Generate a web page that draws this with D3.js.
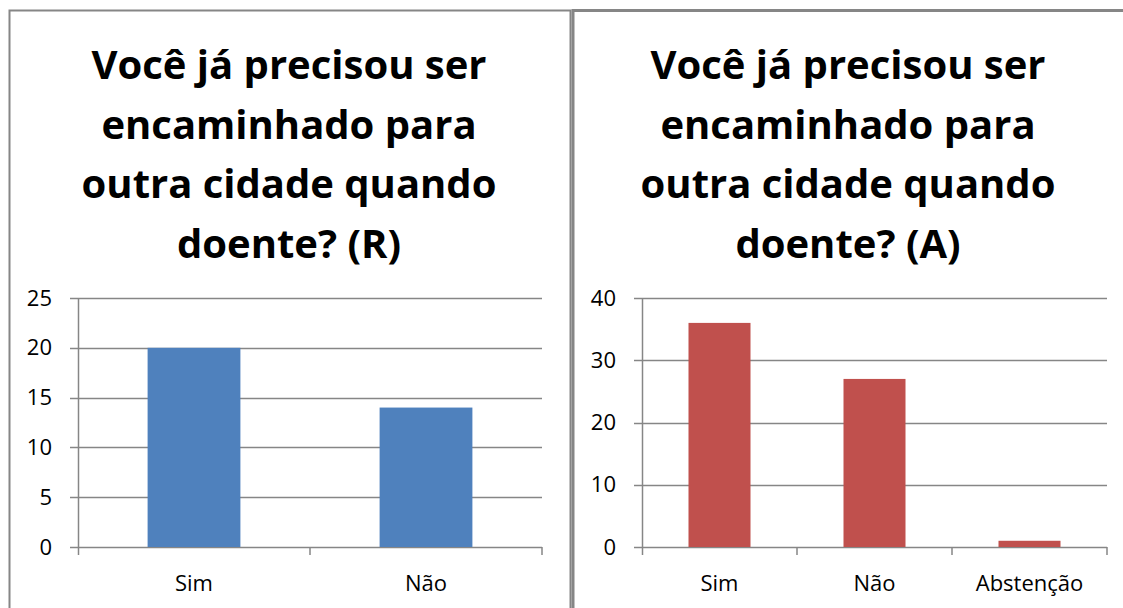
<!DOCTYPE html>
<html><head><meta charset="utf-8">
<script src="https://cdn.jsdelivr.net/npm/d3@7"></script>
<style>body{margin:0;background:#fff}svg{display:block}</style>
</head><body>
<script>
const titleLeft = ["Você já precisou ser", "encaminhado para", "outra cidade quando", "doente? (R)"];
const titleRight = ["Você já precisou ser", "encaminhado para", "outra cidade quando", "doente? (A)"];
const catsLeft = ["Sim", "Não"];
const valsLeft = [20, 14];
const ticksLeft = [0, 5, 10, 15, 20, 25];
const catsRight = ["Sim", "Não", "Abstenção"];
const valsRight = [36, 27, 1];
const ticksRight = [0, 10, 20, 30, 40];

const W = 1123, H = 608;
const svg = d3.select("body").append("svg").attr("width", W).attr("height", H);
const FONT = "'Open Sans', sans-serif";
const GRID = "#868686";

// panel borders
svg.append("rect").attr("x", 9.5).attr("y", 10.5).attr("width", 561).attr("height", 620)
  .attr("fill", "none").attr("stroke", GRID).attr("stroke-width", 2);
svg.append("rect").attr("x", 573).attr("y", 10.5).attr("width", 560).attr("height", 620)
  .attr("fill", "none").attr("stroke", GRID).attr("stroke-width", 3);

function panel(cfg) {
  const g = svg.append("g");
  const x = d3.scaleBand().domain(cfg.cats).range([cfg.x0, cfg.x1]).paddingInner(0).paddingOuter(0);
  const y = d3.scaleLinear().domain([0, cfg.max]).range([547, 298]);
  // title
  g.append("text").attr("x", cfg.tx).attr("y", 79)
    .attr("text-anchor", "middle").attr("font-family", FONT).attr("font-weight", 700)
    .attr("font-size", 40).attr("fill", "#000")
    .selectAll("tspan").data(cfg.title).join("tspan")
    .attr("x", cfg.tx).attr("dy", (d, i) => i === 0 ? 0 : 59.5).text(d => d);
  // gridlines
  g.selectAll("line.grid").data(cfg.ticks).join("line")
    .attr("x1", cfg.x0 - 8).attr("x2", cfg.x1)
    .attr("y1", d => Math.round(y(d)) + 0.5).attr("y2", d => Math.round(y(d)) + 0.5)
    .attr("stroke", GRID).attr("stroke-width", 1.5);
  // y axis line
  g.append("line").attr("x1", cfg.x0 + 0.5).attr("x2", cfg.x0 + 0.5)
    .attr("y1", 298).attr("y2", 555).attr("stroke", GRID).attr("stroke-width", 1.5);
  // x tick marks
  const bounds = cfg.cats.map(c => x(c)).concat([cfg.x1]);
  g.selectAll("line.xt").data(bounds.slice(1)).join("line")
    .attr("x1", d => d).attr("x2", d => d).attr("y1", 547).attr("y2", 555)
    .attr("stroke", GRID).attr("stroke-width", 1.5);
  // y labels
  g.selectAll("text.yl").data(cfg.ticks).join("text")
    .attr("x", cfg.x0 - 26).attr("y", d => y(d) + 7.5).attr("text-anchor", "end")
    .attr("font-family", FONT).attr("font-size", 22).attr("fill", "#000").text(d => d);
  // bars
  const bw = x.bandwidth() / 2.5;
  g.selectAll("rect.bar").data(cfg.vals).join("rect")
    .attr("x", (d, i) => x(cfg.cats[i]) + x.bandwidth() / 2 - bw / 2)
    .attr("width", bw)
    .attr("y", d => y(d)).attr("height", d => y(0) - y(d))
    .attr("fill", cfg.color);
  // x labels
  g.selectAll("text.xl").data(cfg.cats).join("text")
    .attr("x", d => x(d) + x.bandwidth() / 2).attr("y", 591)
    .attr("text-anchor", "middle").attr("font-family", FONT).attr("font-size", 22)
    .attr("fill", "#000").text(d => d);
}

panel({cats: catsLeft, vals: valsLeft, ticks: ticksLeft, max: 25, x0: 78, x1: 542, tx: 289, title: titleLeft, color: "#4F81BD"});
panel({cats: catsRight, vals: valsRight, ticks: ticksRight, max: 40, x0: 642, x1: 1107, tx: 848, title: titleRight, color: "#C0504D"});
</script>
</body></html>
